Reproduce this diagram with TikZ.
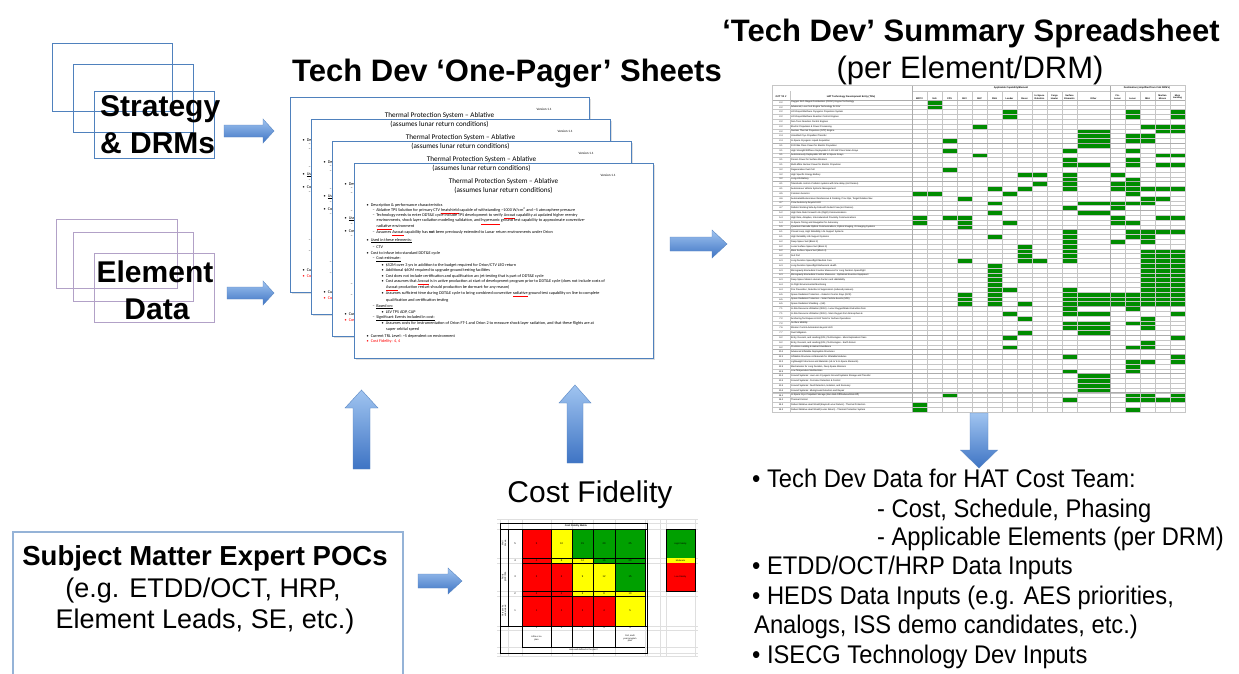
\documentclass[tikz,border=0pt]{standalone}
\usepackage{fontspec}
\setmainfont{Liberation Sans}
\newfontfamily\calib{Carlito}
\newfontfamily\condfont[FakeStretch=0.93]{Liberation Sans}
\usetikzlibrary{shadows}
\definecolor{boxblue}{RGB}{79,129,189}
\definecolor{boxpurple}{RGB}{178,161,199}
\definecolor{smeblue}{RGB}{149,179,215}
\definecolor{arrtop}{RGB}{160,196,240}
\definecolor{arrbot}{RGB}{62,116,196}
\definecolor{arredge}{RGB}{90,135,195}
\definecolor{ssgreen}{RGB}{0,140,0}
\definecolor{cfred}{RGB}{255,0,0}
\definecolor{cfyellow}{RGB}{255,255,0}
\definecolor{cfgreen}{RGB}{0,160,0}
\newcommand\redul[1]{\textcolor{red}{\underline{\textcolor{black}{#1}}}}
\newcommand\arrH[6]{\shade[arrsh] (#2,#1-#5) -- (#3,#1-#5) -- (#3,#1-#6) -- (#4,#1) -- (#3,#1+#6) -- (#3,#1+#5) -- (#2,#1+#5) -- cycle;}
\newcommand\arrV[6]{\shade[arrsh] (#1-#5,#2) -- (#1-#5,#3) -- (#1-#6,#3) -- (#1,#4) -- (#1+#6,#3) -- (#1+#5,#3) -- (#1+#5,#2) -- cycle;}
\tikzset{
  arrsh/.style={top color=arrtop, bottom color=arrbot, draw=arredge, line width=0.4},
  stratbox/.style={draw=boxblue, line width=0.9, minimum width=120, minimum height=68, anchor=north west, inner sep=0},
  elembox/.style={draw=boxpurple, line width=0.9, minimum width=120, minimum height=69, anchor=north west, inner sep=0},
  bigbold/.style={font=\fontsize{30}{37}\selectfont\bfseries, inner sep=0},
  titlefont/.style={font=\fontsize{31}{37}\selectfont\bfseries, inner sep=0, anchor=base},
  subfont/.style={font=\fontsize{31}{37}\selectfont, inner sep=0, anchor=base},
  smebold/.style={font=\fontsize{27.5}{33}\selectfont\bfseries, inner sep=0, anchor=base},
  smereg/.style={font=\fontsize{27}{33}\selectfont, inner sep=0, anchor=base},
  rtext/.style={font=\condfont\fontsize{25.5}{30}\selectfont, inner sep=0, anchor=base west},
  sheet/.style={draw=boxblue, line width=1.1, fill=white, minimum width=299, minimum height=195, anchor=north west, inner sep=0,
     drop shadow={shadow xshift=1.2pt, shadow yshift=-1.2pt, opacity=0.25}},
  shtitle/.style={font=\calib\fontsize{7.2}{9}\selectfont, align=center, inner sep=0},
  shver/.style={font=\calib\fontsize{3.3}{4}\selectfont, inner sep=0},
  shline/.style={font=\calib\fontsize{4.2}{5}\selectfont, anchor=west, inner sep=0},
  ssline/.style={draw=gray!45, line width=0.25},
  sssep/.style={draw=gray!65, line width=0.7},
  sstext/.style={font=\fontsize{2.3}{2.7}\selectfont, inner sep=0},
  cfgrid/.style={draw=gray!25, line width=0.25},
  cfnum/.style={font=\fontsize{2.6}{3}\selectfont, inner sep=0},
  cfsmall/.style={font=\fontsize{2.2}{2.6}\selectfont, inner sep=0, align=center},
}
% full body of the front sheet
\newcommand\sheetbody[1]{%
\foreach \xx/\yy/\txt [count=\n] in {
12.5/42.7/{\textbullet\hspace{2pt}Description \& performance characteristics},
18.5/47.9/{–\hspace{1.5pt}Ablative TPS Solution for primary CTV \redul{heatshield} capable of withstanding \textasciitilde1000 W/cm\textsuperscript{2} and \textasciitilde5 atmosphere pressure},
18.5/53.3/{–\hspace{1.5pt}Technology needs to enter DDT\&E cycle include TPS development to verify \redul{Avcoat} capability at updated higher reentry},
22.5/58.7/{environments, shock layer radiation modeling validation, and \redul{hypersonic} ground test capability to approximate convective-},
22.5/64.5/{\redul{radiative} environment},
18.5/70.5/{–\hspace{1.5pt}Assumes \redul{Avcoat} capability has \textbf{not} been previously extended to Lunar return environments under Orion},
12.5/77.7/{\textbullet\hspace{2pt}\underline{Used in these elements:}},
18.5/83.7/{–\hspace{1.5pt}CTV},
12.5/90.3/{\textbullet\hspace{2pt}Cost to infuse into standard DDT\&E cycle},
18.5/96.3/{–\hspace{1.5pt}\underline{Cost estimate:}},
27.5/102.3/{\textbullet\hspace{2pt}\$52M over 3 yrs in addition to the budget required for Orion/CTV LEO return},
27.5/107.7/{\textbullet\hspace{2pt}Additional \$60M required to upgrade ground testing facilities},
27.5/113.3/{\textbullet\hspace{2pt}Cost does not include certification and qualification arc jet testing that is part of DDT\&E cycle},
27.5/119.3/{\textbullet\hspace{2pt}Cost assumes that \redul{Avcoat} is in active production at start of development program prior to DDT\&E cycle (does not include costs of},
32/125/{\redul{Avcoat} production restart should production be dormant for any reason)},
27.5/131/{\textbullet\hspace{2pt}Assumes sufficient time during DDT\&E cycle to bring combined convective \redul{radiative} ground test capability on line to complete},
32/137/{qualification and certification testing},
18.5/143.7/{–\hspace{1.5pt}\underline{Based on:}},
27.5/149.2/{\textbullet\hspace{2pt}LEV TPS ADP, CAP},
18.5/155.3/{–\hspace{1.5pt}\underline{Significant Events included in cost:}},
27.5/160.7/{\textbullet\hspace{2pt}Assumes costs for instrumentation of Orion FT-1 and Orion 2 to measure shock layer radiation, and that these flights are at},
32/166.3/{super orbital speed},
12.5/173/{\textbullet\hspace{2pt}Current TRL Level: \textasciitilde5 dependent on environment},
12.5/178.7/{\textcolor{red}{\textbullet\hspace{2pt}Cost Fidelity: 4, 4}}
}{\node[shline] (b#1-\n) at (\xx,\yy) {\txt};}}
% visible left strip of the sheets behind
\newcommand\backbody[1]{%
\foreach \xx/\yy/\txt [count=\n] in {
12.5/42.7/{\textbullet\hspace{2pt}Desc},
18.5/47.9/{–},
18.5/53.3/{–},
18.5/70.5/{–},
12.5/77.7/{\textbullet\hspace{2pt}\underline{Used}},
18.5/83.7/{–},
12.5/90.3/{\textbullet\hspace{2pt}Cost},
18.5/96.3/{–},
18.5/143.7/{–},
18.5/155.3/{–},
12.5/173/{\textbullet\hspace{2pt}Curr},
12.5/178.7/{\textcolor{red}{\textbullet\hspace{2pt}Cost}}
}{\node[shline] (k#1-\n) at (\xx,\yy) {\txt};}}
\begin{document}
\begin{tikzpicture}[x=1pt,y=-1pt]
\useasboundingbox (0,0) rectangle (1239,673);
\fill[white] (0,0) rectangle (1239,673);

% ---------- Strategy & DRMs ----------
\node[stratbox] (s1) at (52,43) {};
\node[stratbox] (s2) at (73,64) {};
\node[stratbox, minimum height=67] (s3) at (94,91) {};
\node[bigbold, anchor=base west] (strat1) at (100,116) {Strategy};
\node[bigbold, anchor=base west] (strat2) at (100,153) {\& DRMs};

% ---------- Element Data ----------
\node[elembox, minimum width=121] (e1) at (56,219) {};
\node[elembox] (e2) at (73,232) {};
\node[elembox] (e3) at (94,253) {};
\node[bigbold, anchor=base] (elem1) at (155,282) {Element};
\node[bigbold, anchor=base] (elem2) at (157,319) {Data};

% ---------- titles ----------
\node[titlefont] (t1) at (507,81) {Tech Dev ‘One-Pager’ Sheets};
\node[titlefont] (t2) at (971,41) {‘Tech Dev’ Summary Spreadsheet};
\node[subfont] (t3) at (970,78) {(per Element/DRM)};
\node[subfont, font=\fontsize{30}{36}\selectfont] (t4) at (590,502) {Cost Fidelity};

% ---------- one-pager sheets ----------
\foreach \i/\sx/\sy in {1/290/97, 2/311/119, 3/332/141}{
  \node[sheet] (sh\i) at (\sx,\sy) {};
  \begin{scope}[shift={(sh\i.north west)}]
    \backbody{\i}
  \end{scope}
}
\node[sheet] (sh4) at (354,163) {};
\begin{scope}[shift={(sh4.north west)}]
  \sheetbody{4}
\end{scope}
\foreach \i in {1,2,3,4}{
  \begin{scope}[shift={(sh\i.north west)}]
    \node[shtitle] (sht\i) at (149.5,22.5) {Thermal Protection System – Ablative\\(assumes lunar return conditions)};
    \node[shver] (shv\i) at (254,12) {Version 1.1};
  \end{scope}
}

% ---------- spreadsheet ----------
\fill[white] (772,85) rectangle (1185,412);
\foreach \c/\r in {1/0,1/1,6/2,6/3,13/2,13/3,16/2,16/3,4/5,14/5,15/5,16/5,15/6,16/6,11/6,11/7,11/8,11/9,2/8,13/7,13/8,14/7,14/8,2/10,10/10,10/12,10/13,10/15,10/16,10/17,10/18,13/10,13/12,13/13,4/11,15/11,16/11,15/13,16/13,11/13,2/14,7/15,8/15,12/15,13/16,8/17,12/17,13/17,12/18,13/18,14/18,15/18,16/18,5/18,7/18,0/19,1/19,6/19,13/19,3/20,14/20,15/20,5/21,11/21,12/21,13/21,14/21,10/22,12/22,5/23,11/23,0/24,0/25,2/24,3/24,12/24,15/24,16/24,3/25,3/26,6/25,12/25,13/25,10/27,10/28,10/29,13/27,14/27,15/27,16/27,5/28,13/28,14/28,12/29,14/29,7/30,7/31,7/32,7/33,10/30,10/31,10/32,10/33,3/33,8/33,6/39,3/40,3/41,3/42,10/39,10/40,10/41,10/42,11/40,11/41,11/42,12/40,12/41,12/42,13/40,13/41,13/42,7/42,10/43,10/44,13/43,6/44,11/44,16/44,7/45,14/45,10/46,10/47,11/46,11/47,11/48,14/46,14/47,13/46,7/48,6/49,6/51,16/49,14/50,14/51,13/51,10/53,16/53,13/54,13/55,14/54,16/54,10/56,13/56,11/57,11/58,11/59,11/60,2/61,13/61,14/61,16/61,10/62,13/62,14/62,15/62,16/62,0/63,0/64,13/64}{
  \pgfmathsetmacro\xl{(\c<11)*(912+15*\c)+(\c==11)*1077+(\c>11)*(1110+15*(\c-12))}
  \pgfmathsetmacro\wd{(\c==11)*18+15}
  \fill[ssgreen] (\xl,{100+4.8*\r}) rectangle ++(\wd,4.8);
}
\fill[ssgreen] (1140,{100+4.8*31}) rectangle (1185,{100+4.8*43});
\fill[ssgreen] (987,{100+4.8*34}) rectangle (1002,{100+4.8*43});
\foreach \r in {0,...,65} \draw[ssline] (772,{100+4.8*\r}) -- (1185,{100+4.8*\r});
\draw[ssline] (912,91) -- (1185,91);
\foreach \xx in {790,927,942,957,972,987,1002,1017,1032,1047,1062,1077,1125,1140,1155,1170} \draw[ssline] (\xx,91) -- (\xx,412);
\foreach \xx in {912,1110} \draw[sssep] (\xx,85) -- (\xx,412);
\foreach \k in {9,17,23,27,43,49,52,53,57,61} \draw[sssep] (772,{100+4.8*\k}) -- (1185,{100+4.8*\k});
\draw[sssep] (772,100) -- (1185,100);
\draw[ssline] (772,85) rectangle (1185,412);
\node[sstext, font=\fontsize{2.4}{2.8}\selectfont\bfseries] (hd1) at (1011,88) {Applicable Capability/Element};
\node[sstext, font=\fontsize{2.4}{2.8}\selectfont\bfseries] (hd2) at (1147,88) {Destination (simplified from CoE DRM's)};
\node[sstext, font=\fontsize{2.4}{2.8}\selectfont\bfseries] (hd3) at (781,97) {OCT TA \#};
\node[sstext, font=\fontsize{2.4}{2.8}\selectfont\bfseries] (hd4) at (851,97) {HAT Technology Development Entry (Title)};
\foreach \c/\lab [count=\k] in {0/MPCV,1/SLS,2/CPS,3/SEV,4/SEP,5/DSH,6/Lander,7/Rover,8/{In-Space\\Robotics},9/{Cargo\\Hauler},10/{Surface\\Elements},11/Other,12/{Cis-\\Lunar},13/Lunar,14/NEA,15/{Martian\\Moons},16/{Mars\\Landing}}{
  \pgfmathsetmacro\xc{(\c<11)*(919.5+15*\c)+(\c==11)*1093.5+(\c>11)*(1117.5+15*(\c-12))}
  \node[sstext, align=center, anchor=south, font=\fontsize{2.3}{2.7}\selectfont\bfseries] (ch\k) at (\xc,99.6) {\lab};
}
\foreach \id/\nm [count=\r from 0] in {
2.2/{Oxygen Rich Staged Combustion (ORSC) Engine Technology},
2.2/{Advanced, Low Cost Engine Technology for ELV},
2.2/{LOX/Liquid Methane Cryogenic Propulsion System},
2.2/{LOX/Liquid Methane Reaction Control Engines},
2.2/{Non-Toxic Reaction Control Engines},
2.2/{Electric Propulsion \& Power Processing},
2.2/{Nuclear Thermal Propulsion (NTP) Engine},
2.4/{Unsettled Cryo Propellant Transfer},
2.4/{In-Space Cryogenic Liquid Acquisition},
3.1/{100 kWe Class Power for Electric Propulsion},
3.1/{High Strength/Stiffness Deployable 10-100 kW Class Solar Arrays},
3.1/{Autonomously Deployable 300 kW In-Space Arrays},
3.1/{Fission Power for Surface Missions},
3.1/{Multi-MWe Nuclear Power for Electric Propulsion},
3.2/{Regenerative Fuel Cell},
3.2/{High Specific Energy Battery},
3.2/{Long-Life Battery},
4.1/{Telerobotic control of robotic systems with time delay (incl Demos)},
4.1/{Autonomous Vehicle Systems Management},
4.5/{Common Avionics},
4.6/{Automated/Autonomous Rendezvous \& Docking, Prox Ops, Target Relative Nav},
4.7/{Crew Autonomy beyond LEO},
4.7/{Robotic Working Side-by-Side with Suited Crew (incl Demos)},
5.2/{High Data Rate Forward Link (Flight) Communications},
5.4/{High Rate, Adaptive, Internetworked Proximity Communications},
5.4/{In-Space Timing and Navigation for Autonomy},
5.5/{Quantum Cascade Optical Communications, Optical Imaging, IR Imaging Systems},
6.1/{Closed Loop, High Reliability, Life Support Systems},
6.1/{High Reliability Life Support Systems},
6.2/{Deep Space Suit (Block 2)},
6.2/{Lunar Surface Space Suit (Block 3)},
6.2/{Mars Surface Space Suit (Block 4)},
6.2/{Suit Port},
6.3/{Long Duration Spaceflight Medical Care},
6.3/{Long Duration Spaceflight Behavioral Health},
6.3/{Microgravity Biomedical Counter Measures for Long Duration Spaceflight},
6.3/{Microgravity Biomedical Counter Measures - Optimized Exercise Equipment},
6.3/{Deep Space Mission Human Factors and Habitability},
6.4/{In-Flight Environmental Monitoring},
6.4/{Fire Prevention, Detection \& Suppression (reduced pressure)},
6.5/{Space Radiation Protection – Galactic Cosmic Rays (GCR)},
6.5/{Space Radiation Protection – Solar Particle Events (SPE)},
6.5/{Space Radiation Shielding – (HE)},
7.1/{In-Situ Resource Utilization (ISRU) - Lunar Oxygen/Water Extraction from},
7.1/{In-Situ Resource Utilization (ISRU) - Mars Oxygen from Atmosphere \&},
7.2/{Anchoring Techniques \& EVA Tools for Surface Operations},
7.2/{Surface Mobility},
7.6/{Mission Control Automation beyond LEO},
7.7/{Dust Mitigation},
9.2/{Entry, Descent, and Landing (EDL) Technologies - Mars Exploration Class},
9.2/{Entry, Descent, and Landing (EDL) Technologies - Earth Return},
9.2/{Precision Landing \& Hazard Avoidance},
10.1/{Advanced Inflatable Deployable Structures},
12.1/{Inflatable Structures \& Materials for Inflatable Modules},
12.2/{Lightweight Structures and Materials (HLLV \& In-Space Elements)},
12.3/{Mechanisms for Long Duration, Deep Space Missions},
12.3/{Low Temperature Mechanisms},
13.1/{Ground Systems: Low Loss Cryogenic Ground Systems Storage and Transfer},
13.3/{Ground Systems: Corrosion Detection \& Control},
13.3/{Ground Systems: Fault Detection, Isolation, and Recovery},
13.4/{Ground Systems: Mixing/Leak Detection and Repair},
14.1/{In-Space Cryo Propellant Storage (Zero Boil-Off/Reduced Boil-Off)},
14.2/{Thermal Control},
14.3/{Robust Ablative Heat Shield (Beyond Lunar Return) - Thermal Protection},
14.3/{Robust Ablative Heat Shield (Lunar Return) - Thermal Protection System}}{
  \node[sstext] (id\r) at (781,{102.4+4.8*\r}) {\id};
  \node[sstext, anchor=west] (nm\r) at (791,{102.4+4.8*\r}) {\nm};
}

% ---------- cost fidelity matrix ----------
\foreach \xx in {500,508,522,551,572,593,615,645,647,660,666,695} \draw[cfgrid] (\xx,519) -- (\xx,656);
\foreach \yy in {519,523,529,558,563,591,596,626,630,647,653,656} \draw[cfgrid] (497,\yy) -- (698,\yy);
\foreach \xa/\xb/\ya/\yb/\cc/\nn [count=\k] in {
522/551/529/558/cfred/5, 551/572/529/558/cfyellow/10, 572/593/529/558/cfgreen/15, 593/615/529/558/cfgreen/20, 615/645/529/558/cfgreen/25,
522/551/558/563/cfred/4, 551/572/558/563/cfyellow/8, 572/593/558/563/cfyellow/12, 593/615/558/563/cfgreen/16, 615/645/558/563/cfgreen/20,
522/551/563/591/cfred/3, 551/572/563/591/cfred/6, 572/593/563/591/cfyellow/9, 593/615/563/591/cfyellow/12, 615/645/563/591/cfgreen/15,
522/551/591/596/cfred/2, 551/572/591/596/cfred/4, 572/593/591/596/cfyellow/6, 593/615/591/596/cfyellow/8, 615/645/591/596/cfyellow/10,
522/551/596/626/cfred/1, 551/572/596/626/cfred/2, 572/593/596/626/cfred/3, 593/615/596/626/cfred/4, 615/645/596/626/cfyellow/5}{
  \draw[fill=\cc, line width=0.3] (\xa,\ya) rectangle (\xb,\yb);
  \node[cfnum] (cf\k) at ({(\xa+\xb)/2},{(\ya+\yb)/2}) {\nn};
}
\draw[line width=0.4] (500,523) rectangle (647,653);
\draw[line width=0.3] (508,529) -- (508,626) (522,529) -- (522,647) (500,529) -- (647,529) (500,626) -- (647,626) (522,647) -- (645,647);
\foreach \xa/\xb in {551/572,572/593,593/615,615/645} \draw[line width=0.3] (\xa,626) -- (\xa,647);
\node[cfsmall, font=\fontsize{2.4}{2.8}\selectfont\bfseries] (cft) at (576,526) {Cost Fidelity Matrix};
\foreach \yy/\nn [count=\k] in {543.5/5,560.5/4,577/3,593.5/2,611/1} \node[cfnum] (cfr\k) at (515,\yy) {\nn};
\node[cfsmall, rotate=90] (cfl1) at (504,543.5) {Well\\Known};
\node[cfsmall, rotate=90] (cfl2) at (504,577) {Fairly\\good idea};
\node[cfsmall, rotate=90] (cfl3) at (504,611) {Very poorly\\understood};
\foreach \xx/\nn [count=\k] in {536.5/1,561.5/2,582.5/3,604/4,630/5} \node[cfnum] (cfb\k) at (\xx,628) {\nn};
\node[cfsmall] (cfp1) at (536.5,638.5) {Little or no\\plan};
\node[cfsmall] (cfp5) at (630,638.5) {Full, multi\\year program\\plan};
\node[cfsmall] (cfq) at (583.5,650) {How well defined is the plan?};
\fill[cfgreen] (666,529) rectangle (695,558);
\fill[cfyellow] (666,558) rectangle (695,563);
\fill[cfred] (666,563) rectangle (695,591);
\draw[line width=0.3] (666,529) rectangle (695,591);
\node[cfsmall] (lg1) at (680.5,543.5) {High Fidelity};
\node[cfsmall] (lg2) at (680.5,560.5) {Moderate};
\node[cfsmall] (lg3) at (680.5,577) {Low Fidelity};

% ---------- SME box ----------
\node[draw=smeblue, line width=1.5, minimum width=390, minimum height=160, anchor=north west, inner sep=0] (sme) at (12,531) {};
\node[smebold] (sme1) at (205,565) {Subject Matter Expert POCs};
\node[smereg] (sme2) at (203,597) {(e.g. ETDD/OCT, HRP,};
\node[smereg] (sme3) at (205,628) {Element Leads, SE, etc.)};

% ---------- right bullet text ----------
\node[rtext] (r1) at (752,487) {• Tech Dev Data for HAT Cost Team:};
\node[rtext] (r2) at (877,517) {- Cost, Schedule, Phasing};
\node[rtext] (r3) at (877,545) {- Applicable Elements (per DRM)};
\node[rtext] (r4) at (752,574) {• ETDD/OCT/HRP Data Inputs};
\node[rtext] (r5) at (752,604) {• HEDS Data Inputs (e.g. AES priorities,};
\node[rtext] (r6) at (754,633) {Analogs, ISS demo candidates, etc.)};
\node[rtext] (r7) at (752,663) {• ISECG Technology Dev Inputs};

% ---------- block arrows ----------
\arrH{131}{224}{263}{274}{6}{12}
\arrH{293}{227}{263}{274}{6}{12}
\arrH{244}{670}{712}{727}{7}{14}
\arrH{581}{418}{448}{462}{7}{13}
\arrV{361.5}{469}{408}{390}{8.5}{16.5}
\arrV{575}{463}{403}{385}{8}{16}
\arrV{979}{413}{450}{468}{9}{18.5}
\end{tikzpicture}
\end{document}
